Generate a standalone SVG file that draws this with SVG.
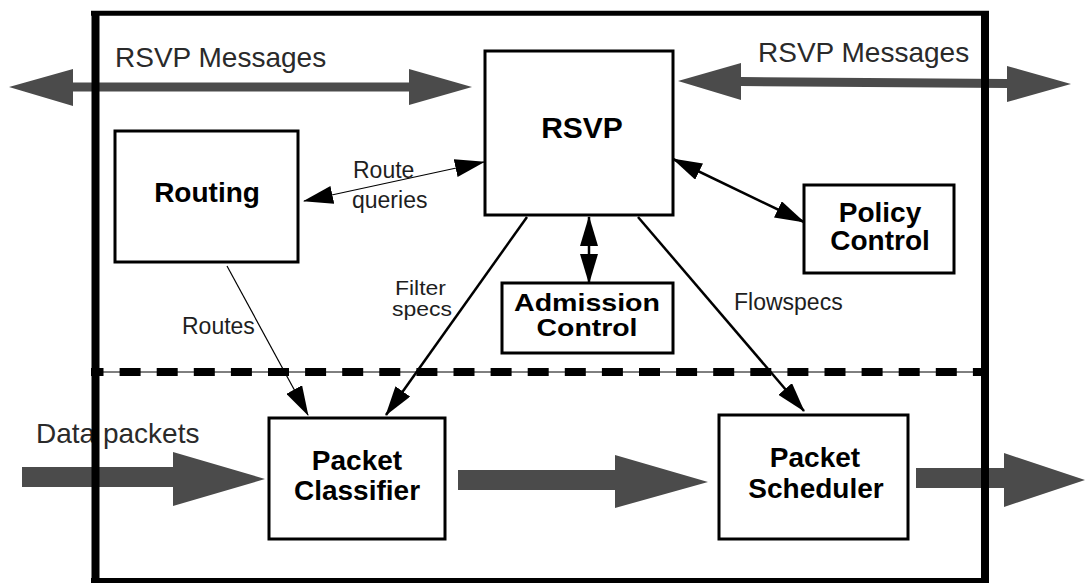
<svg xmlns="http://www.w3.org/2000/svg" width="1088" height="583" viewBox="0 0 1088 583">
<style>
.box{fill:#fff;stroke:#000;stroke-width:3}
.bt{font-family:"Liberation Sans",Arial,sans-serif;font-weight:bold;font-size:28px;fill:#000;text-anchor:middle}
.lt{font-family:"Liberation Sans",Arial,sans-serif;font-size:23px;fill:#1e1e1e}
.big{font-family:"Liberation Sans",Arial,sans-serif;font-size:28px;fill:#2a2a2a}
.flow{fill:#4b4b4b}
.thin{stroke:#000;stroke-width:1.2;fill:none}
.thick{stroke:#000;stroke-width:2.5;fill:none}
.frame{stroke:#000;fill:none}
</style>
<defs>
<marker id="ah" markerUnits="userSpaceOnUse" markerWidth="30" markerHeight="18" refX="29" refY="9" orient="auto-start-reverse" viewBox="0 0 30 18"><path d="M0,0 L30,9 L0,18 z" fill="#000"/></marker>
</defs>
<rect width="1088" height="583" fill="#fff"/>

<g id="flows">
<polygon class="flow" points="9,87 73,69 73,82.5 409,82.5 409,69 472,87 409,105 409,91.5 73,91.5 73,106"/>
<polygon class="flow" points="678,81 741,63 741,77 1007,79 1007,66 1071,84 1007,102 1007,88 741,86 741,100"/>
<polygon class="flow" points="22,467 173,467 173,452 265,479 173,506 173,487 22,487"/>
<polygon class="flow" points="458,470 615,470 615,455 708,482 615,508 615,490 458,490"/>
<polygon class="flow" points="916,468 1004,468 1004,453 1085,480 1004,507 1004,488 916,488"/>
<text class="big" x="115" y="67">RSVP Messages</text>
<text class="big" x="758" y="62">RSVP Messages</text>
<text class="big" x="36" y="443">Data packets</text>
</g>

<g id="divider">
<line x1="91" y1="372" x2="985" y2="372" stroke="#000" stroke-width="1"/>
<line x1="91" y1="372" x2="985" y2="372" stroke="#000" stroke-width="8" stroke-dasharray="21 16.1" stroke-dashoffset="8.5"/>
</g>

<g id="connectors">
<line class="thin" x1="304" y1="201" x2="484" y2="162" marker-start="url(#ah)" marker-end="url(#ah)"/>
<line class="thick" x1="673" y1="159" x2="804" y2="222" marker-start="url(#ah)" marker-end="url(#ah)"/>
<line class="thick" x1="589" y1="217" x2="589" y2="283" marker-start="url(#ah)" marker-end="url(#ah)"/>
<line class="thick" x1="527" y1="217" x2="386" y2="415" marker-end="url(#ah)"/>
<line class="thick" x1="638" y1="217" x2="804" y2="411" marker-end="url(#ah)"/>
<line class="thin" x1="227" y1="266" x2="308" y2="415" marker-end="url(#ah)"/>
<text class="lt" x="353" y="178">Route</text>
<text class="lt" x="352" y="208">queries</text>
<text class="lt" x="182" y="334">Routes</text>
<text class="lt" x="395" y="295" style="font-size:21px" textLength="51" lengthAdjust="spacingAndGlyphs">Filter</text>
<text class="lt" x="392" y="316" style="font-size:21px" textLength="60" lengthAdjust="spacingAndGlyphs">specs</text>
<text class="lt" x="734" y="310">Flowspecs</text>
</g>

<g id="routing">
<rect class="box" x="115" y="131" width="183" height="131"/>
<text class="bt" x="207" y="202">Routing</text>
</g>
<g id="rsvp">
<rect class="box" x="485" y="51" width="188" height="164"/>
<text class="bt" x="582" y="138" style="font-size:30px">RSVP</text>
</g>
<g id="policy-control">
<rect class="box" x="804" y="185" width="150" height="88"/>
<text class="bt" x="880" y="222">Policy</text>
<text class="bt" x="880" y="250">Control</text>
</g>
<g id="admission-control">
<rect class="box" x="502" y="283" width="171" height="70"/>
<text class="bt" x="587" y="311" style="font-size:24px" textLength="146" lengthAdjust="spacingAndGlyphs">Admission</text>
<text class="bt" x="587" y="336" style="font-size:24px" textLength="101" lengthAdjust="spacingAndGlyphs">Control</text>
</g>
<g id="packet-classifier">
<rect class="box" x="269" y="418" width="176" height="121"/>
<text class="bt" x="357" y="470">Packet</text>
<text class="bt" x="357" y="500">Classifier</text>
</g>
<g id="packet-scheduler">
<rect class="box" x="719" y="415" width="189" height="124"/>
<text class="bt" x="815" y="467">Packet</text>
<text class="bt" x="816" y="498">Scheduler</text>
</g>

<g id="frame">
<line class="frame" x1="95.5" y1="11" x2="95.5" y2="583" stroke-width="8"/>
<line class="frame" x1="985" y1="11" x2="985" y2="583" stroke-width="8"/>
<line class="frame" x1="91" y1="13.3" x2="989" y2="13.3" stroke-width="5"/>
<line class="frame" x1="91" y1="580.5" x2="989" y2="580.5" stroke-width="5"/>
</g>
</svg>
